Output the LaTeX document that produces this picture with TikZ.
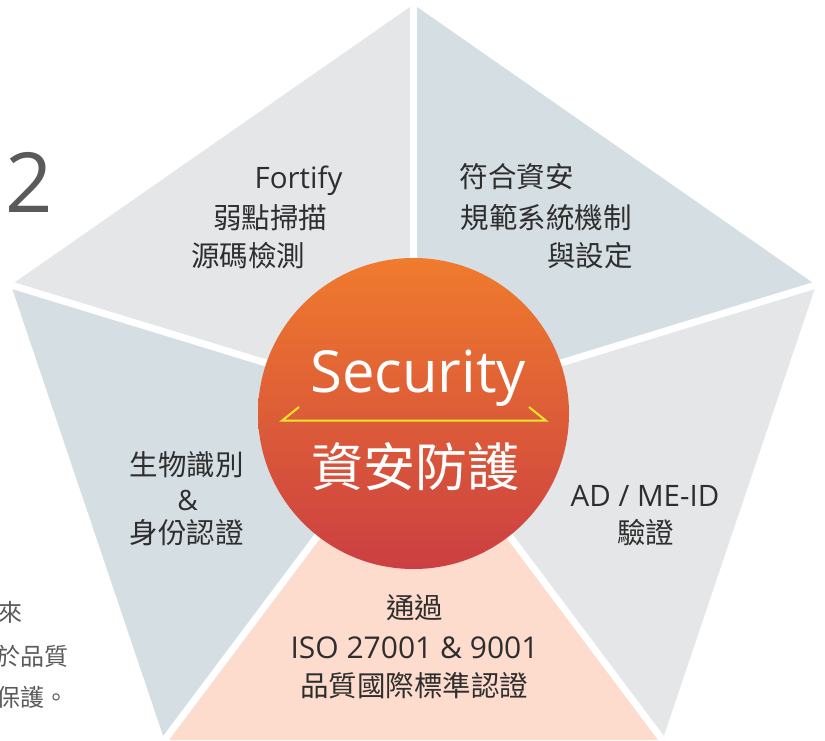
\documentclass[tikz,border=0pt]{standalone}
\usepackage{fontspec}
\setmainfont{Open Sans}
\newfontfamily\cjk{Noto Sans CJK TC}
\definecolor{segA}{HTML}{E4E6E8}
\definecolor{segB}{HTML}{D5DEE3}
\definecolor{segP}{HTML}{FDDBCD}
\definecolor{orgTop}{HTML}{F07B2D}
\definecolor{orgBot}{HTML}{CB3F42}
\definecolor{yel}{HTML}{EFE52C}
\definecolor{txt}{HTML}{2E2E2E}
\definecolor{side}{HTML}{5A5A5A}
\tikzset{
  gap/.style={white,line width=7pt},
  lab/.style={inner sep=0pt,anchor=base,text=txt},
  cjk28/.style={lab,font=\cjk\fontsize{28.5}{30}\selectfont},
  lat29/.style={lab,font=\fontsize{29.5}{31}\selectfont},
  sidetxt/.style={inner sep=0pt,anchor=base east,text=side,font=\cjk\fontsize{24}{26}\selectfont}
}
\begin{document}
\begin{tikzpicture}[x=1pt,y=-1pt]
\useasboundingbox (0,0) rectangle (825,741);
\fill[white] (0,0) rectangle (825,741);
\coordinate (C) at (413.5,408);
\coordinate (T) at (413.5,4.5);
\coordinate (UL) at (11,285);
\coordinate (UR) at (816,285);
\coordinate (LL) at (164.5,740);
\coordinate (LR) at (662.5,740);
\fill[segA] (C) -- (T) -- (UL) -- cycle;
\fill[segB] (C) -- (T) -- (UR) -- cycle;
\fill[segA] (C) -- (UR) -- (LR) -- cycle;
\fill[segP] (C) -- (LR) -- (LL) -- cycle;
\fill[segB] (C) -- (LL) -- (UL) -- cycle;
\foreach \v in {T,UL,UR,LL,LR} \draw[gap] (C) -- (\v);
% centre circle
\shade[top color=orgTop,bottom color=orgBot] (413.5,413.5) circle (155.5);
\node[inner sep=0pt,anchor=base,text=white,font=\fontsize{58}{60}\selectfont] (sec) at (418,392.5) {Security};
\draw[yel,line width=2pt,line join=miter] (299,407) -- (282,420.7) -- (546,420.7) -- (529,407);
\node[inner sep=0pt,anchor=base,text=white,font=\cjk\fontsize{52}{54}\selectfont] (zh) at (415,486) {資安防護};
% top-left
\node[lat29] (fort) at (298.5,188.5) {Fortify};
\node[cjk28] (weak) at (270,228) {弱點掃描};
\node[cjk28] (src) at (248,266) {源碼檢測};
% top-right
\node[cjk28] (r1) at (516.5,188) {符合資安};
\node[cjk28] (r2) at (546,228) {規範系統機制};
\node[cjk28] (r3) at (590,266) {與設定};
% left
\node[cjk28] (l1) at (186.5,475) {生物識別};
\node[lab,font=\fontsize{28}{30}\selectfont] (amp) at (187.5,510) {\&};
\node[cjk28] (l2) at (186.5,543) {身份認證};
% right
\node[lat29] (ad) at (645,506) {AD / ME-ID};
\node[cjk28] (ver) at (645.5,543) {驗證};
% bottom
\node[cjk28] (b1) at (414.5,618) {通過};
\node[lab,font=\fontsize{30}{32}\selectfont] (iso) at (414.5,658) {ISO 27001 \& 9001};
\node[cjk28] (b3) at (414,696) {品質國際標準認證};
% partial side text
\node[inner sep=0pt,anchor=base west,text=side,font=\fontsize{83}{85}\selectfont] (two) at (5,212) {2};
\node[sidetxt] (s1) at (23,621) {來};
\node[sidetxt] (s2) at (69,665) {於品質};
\node[sidetxt] (s3) at (69,706) {保護。};
\end{tikzpicture}
\end{document}
